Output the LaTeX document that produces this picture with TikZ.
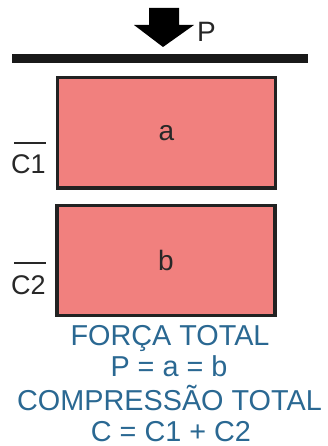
\documentclass[tikz,border=0pt]{standalone}
\usepackage{fontspec}
\setmainfont{Liberation Sans}
\definecolor{boxfill}{RGB}{241,128,126}
\definecolor{boxline}{RGB}{34,34,34}
\definecolor{txtblue}{RGB}{42,104,146}
\definecolor{lblgray}{RGB}{40,40,40}
\begin{document}
\begin{tikzpicture}[x=1pt,y=-1pt,
  block/.style={draw=boxline,fill=boxfill,line width=3.5pt,inner sep=0pt,
    minimum width=218pt,font=\fontsize{28}{30}\selectfont,text=lblgray},
  sidelbl/.style={inner sep=0pt,font=\fontsize{27}{30}\selectfont,text=lblgray},
  caption/.style={inner sep=0pt,anchor=base,font=\fontsize{28.8}{32}\selectfont,text=txtblue}]
\useasboundingbox (0,0) rectangle (327,446);
% force arrow
\fill[black] (149,8) -- (179,8) -- (179,25) -- (194,25) -- (163,47) -- (134,25) -- (149,25) -- cycle;
\node[sidelbl,anchor=base west,text=black!85,font=\fontsize{28}{30}\selectfont] (P) at (197,42) {P};
% plate
\fill[black!90] (12,54) rectangle (308,63.5);
% blocks
\node[block,minimum height=110.5pt] (a) at (166.5,133) {a};
\node[block,minimum height=110pt] (b) at (166,260.5) {b};
% side labels
\node[sidelbl,anchor=base west] (c1) at (11,174) {C1};
\draw[lblgray,line width=2.2pt] ([shift={(3,-12)}]c1.north west) -- ([shift={(0,-12)}]c1.north east);
\node[sidelbl,anchor=base west] (c2) at (11,294) {C2};
\draw[lblgray,line width=2.2pt] ([shift={(3,-12)}]c2.north west) -- ([shift={(0,-12)}]c2.north east);
% captions
\node[caption] (t1) at (170,345) {FORÇA TOTAL};
\node[caption] (t2) at (169,376) {P = a = b};
\node[caption] (t3) at (169.5,410) {COMPRESSÃO TOTAL};
\node[caption] (t4) at (171,441) {C = C1 + C2};
\end{tikzpicture}
\end{document}
